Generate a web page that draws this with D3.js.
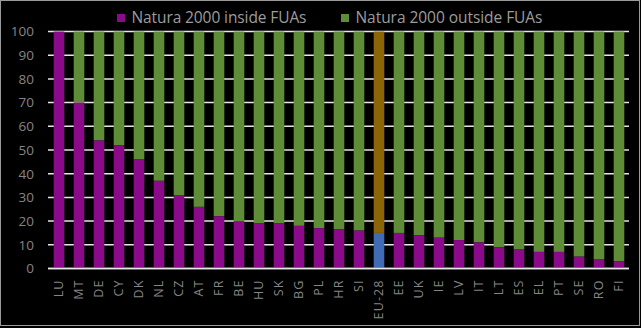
<!DOCTYPE html>
<html><head><meta charset="utf-8">
<script src="https://cdn.jsdelivr.net/npm/d3@7"></script>
<style>body{margin:0;background:#000}svg{display:block}</style>
</head><body>
<svg id="c" width="641" height="328"></svg>
<script>
const categories = ["LU","MT","DE","CY","DK","NL","CZ","AT","FR","BE","HU","SK","BG","PL","HR","SI","EU-28","EE","UK","IE","LV","IT","LT","ES","EL","PT","SE","RO","FI"];
const insideFUAs = [100,70,54,52,46,37,31,26,22,20,19,19,18,17,16.5,16,15,15,14,13,12,11,9,8,7,7,5,4,3];
const seriesNames = ["Natura 2000 inside FUAs","Natura 2000 outside FUAs"];
const yTicks = [0,10,20,30,40,50,60,70,80,90,100];
const colors = {inside:"#8a0a8a", outside:"#5e8c37", euInside:"#3f6cb4", euOutside:"#8b6508"};

const svg = d3.select("#c");
const W = 641, H = 328;
svg.append("rect").attr("x",0.5).attr("y",0.5).attr("width",W-2).attr("height",H-3)
  .attr("fill","#000").attr("stroke","#9a9a9a").attr("stroke-width",1);

const x = d3.scaleBand().domain(categories).range([49,629]).paddingInner(0.47).paddingOuter(0.235);
const y = d3.scaleLinear().domain([0,100]).range([268.5,31.5]);

svg.append("g").selectAll("line").data(yTicks).join("line")
  .attr("x1",48).attr("x2",629).attr("y1",d=>y(d)).attr("y2",d=>y(d))
  .attr("stroke","#e6e6e6").attr("stroke-width",1.5);

const data = categories.map((c,i)=>({c, inside:insideFUAs[i], outside:100-insideFUAs[i]}));
const g = svg.append("g");
g.selectAll(".out").data(data).join("rect")
  .attr("x",d=>x(d.c)).attr("width",x.bandwidth())
  .attr("y",y(100)).attr("height",d=>y(d.inside)-y(100))
  .attr("fill",d=>d.c==="EU-28"?colors.euOutside:colors.outside);
g.selectAll(".in").data(data).join("rect")
  .attr("x",d=>x(d.c)).attr("width",x.bandwidth())
  .attr("y",d=>y(d.inside)).attr("height",d=>y(0)-y(d.inside))
  .attr("fill",d=>d.c==="EU-28"?colors.euInside:colors.inside);

svg.append("line").attr("x1",48).attr("x2",629).attr("y1",y(0)).attr("y2",y(0))
  .attr("stroke","#e6e6e6").attr("stroke-width",1.5);

const yAxis = d3.axisLeft(y).tickValues(yTicks).tickSize(0).tickPadding(0);
const ya = svg.append("g").attr("transform","translate(34,0)").call(yAxis);
ya.select(".domain").remove();
ya.selectAll("text").attr("fill","#858585").style("font-family","'Open Sans', sans-serif").style("font-size","13.5px");

const xAxis = d3.axisBottom(x).tickSize(0);
const xa = svg.append("g").attr("transform",`translate(0,${y(0)})`).call(xAxis);
xa.select(".domain").remove();
xa.selectAll("text").attr("fill","#858585").style("font-family","'Open Sans', sans-serif").style("font-size","12.5px")
  .style("letter-spacing","1.1px")
  .attr("transform","rotate(-90)").attr("text-anchor","end").attr("dx","-11").attr("dy","0.35em").attr("y",0).attr("x",0);

const leg = svg.append("g").style("font-family","'Open Sans', sans-serif").style("font-size","15.5px");
const legItems = [
  {name:seriesNames[0], color:colors.inside, x:117, w:175},
  {name:seriesNames[1], color:colors.outside, x:341, w:187}
];
leg.selectAll("rect").data(legItems).join("rect")
  .attr("x",d=>d.x).attr("y",14).attr("width",8).attr("height",8).attr("fill",d=>d.color);
leg.selectAll("text").data(legItems).join("text")
  .attr("x",d=>d.x+14.5).attr("y",23.3).attr("fill","#9c9c9c").text(d=>d.name)
  .each(function(d){
    const len = this.getComputedTextLength();
    const n = d.name.length;
    d3.select(this).style("letter-spacing", ((d.w-len)/(n-1))+"px");
  });
</script>
</body></html>
